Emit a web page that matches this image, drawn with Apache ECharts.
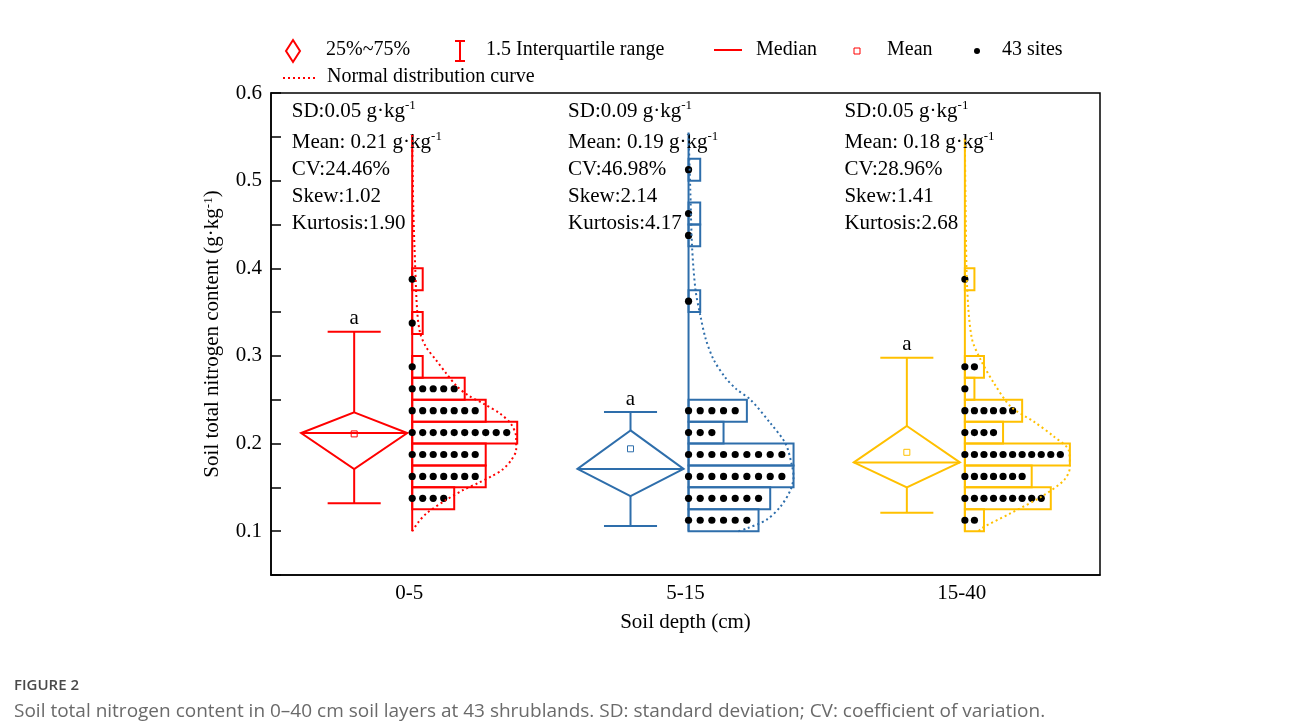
<!DOCTYPE html>
<html>
<head>
<meta charset="utf-8">
<title>Soil total nitrogen content</title>
<script src="https://cdn.jsdelivr.net/npm/echarts@6/dist/echarts.min.js"></script>
<style>
  html, body { margin: 0; padding: 0; background: #fff; }
  #chart { width: 1290px; height: 727px; }
</style>
</head>
<body>
<div id="chart"></div>
<script>
// ---- data -------------------------------------------------------------
const categories = ['0-5', '5-15', '15-40'];
const yTicks = [0.1, 0.2, 0.3, 0.4, 0.5, 0.6];

// Box statistics per soil layer (g·kg-1)
const whiskerLow  = [0.132, 0.106, 0.121];
const q1          = [0.171, 0.140, 0.150];
const median      = [0.212, 0.171, 0.1785];
const q3          = [0.2355, 0.215, 0.220];
const whiskerHigh = [0.3275, 0.236, 0.298];
const means       = [0.211, 0.194, 0.190];
const groupLetters = ['a', 'a', 'a'];

// Histogram bins (lower edges, width 0.025) and site counts per bin
const binLower = [0.100, 0.125, 0.150, 0.175, 0.200, 0.225, 0.250, 0.275, 0.300,
                  0.325, 0.350, 0.375, 0.400, 0.425, 0.450, 0.475, 0.500];
const BIN_W = 0.025;
const counts0to5   = [0, 4, 7, 7, 10, 7, 5, 1, 0, 1, 0, 1, 0, 0, 0, 0, 0];
const counts5to15  = [6, 7, 9, 9, 3, 5, 0, 0, 0, 0, 1, 0, 0, 1, 1, 0, 1];
const counts15to40 = [2, 9, 7, 11, 4, 6, 1, 2, 0, 0, 0, 1, 0, 0, 0, 0, 0];

// Normal distribution curves: [content, expected sites per bin]
const curve0to5 = [[0.100, 0], [0.110, 0.57], [0.120, 1.33], [0.135, 3.14], [0.147, 4.86],
  [0.155, 6.29], [0.163, 7.62], [0.170, 8.57], [0.181, 9.43], [0.193, 9.9], [0.207, 9.9],
  [0.222, 9.43], [0.234, 8.38], [0.245, 6.86], [0.255, 5.33], [0.265, 4.29], [0.280, 3.24],
  [0.295, 2.29], [0.310, 1.33], [0.326, 0.76], [0.350, 0.48], [0.400, 0.29], [0.470, 0.1], [0.552, 0]];
const curve5to15 = [[0.100, 4.28], [0.103, 4.97], [0.113, 6.68], [0.128, 7.88], [0.147, 8.74],
  [0.162, 9.0], [0.177, 8.83], [0.200, 8.31], [0.223, 7.03], [0.250, 5.31], [0.262, 4.11],
  [0.275, 3.17], [0.296, 2.14], [0.320, 1.46], [0.345, 1.03], [0.375, 0.6], [0.425, 0.3],
  [0.489, 0.15], [0.555, 0]];
const curve15to40 = [[0.100, 1.47], [0.103, 1.68], [0.120, 4.71], [0.139, 7.96], [0.158, 10.37],
  [0.173, 11.0], [0.192, 10.89], [0.208, 9.32], [0.225, 7.23], [0.242, 4.82], [0.269, 3.04],
  [0.295, 1.68], [0.320, 0.73], [0.375, 0.25], [0.450, 0.1], [0.548, 0]];

// Descriptive statistics printed above each layer
const sdText   = ['0.05', '0.09', '0.05'];
const meanText = ['0.21', '0.19', '0.18'];
const cvText   = ['24.46%', '46.98%', '28.96%'];
const skewText = ['1.02', '2.14', '1.41'];
const kurtText = ['1.90', '4.17', '2.68'];

// ---- layout / style ---------------------------------------------------
const colors = ['#ff0000', '#2e6eab', '#ffc000'];
const countsByGroup = [counts0to5, counts5to15, counts15to40];
const curvesByGroup = [curve0to5, curve5to15, curve15to40];
const SERIF = '"Liberation Serif", "Times New Roman", serif';

// offsets in category units (one category = 1)
const BOX_OFFSET = -0.199;
const DIAMOND_HW = 0.192;
const CAP_HW = 0.096;
const HIST_OFFSET = 0.011;
const HIST_MAX_W = 0.38;
const TEXT_OFFSET = -0.425;

const supRich = {
  n: { fontFamily: SERIF, fontSize: 21, lineHeight: 24, color: '#000' },
  s: { fontFamily: SERIF, fontSize: 13, lineHeight: 13, color: '#000', verticalAlign: 'top' }
};

function countUnit(g) {
  return HIST_MAX_W / Math.max.apply(null, countsByGroup[g]);
}

function renderGroup(params, api) {
  const g = api.value(0);
  const col = colors[g];
  const cx = g + 0.5;
  const bx = cx + BOX_OFFSET;
  const hx = cx + HIST_OFFSET;
  const P = (x, y) => api.coord([x, y]);
  const line = (a, b, w) => ({
    type: 'line', shape: { x1: a[0], y1: a[1], x2: b[0], y2: b[1] },
    style: { stroke: col, lineWidth: w || 2 }
  });
  const ch = [];

  // whiskers and caps
  ch.push(line(P(bx, whiskerHigh[g]), P(bx, q3[g])));
  ch.push(line(P(bx, q1[g]), P(bx, whiskerLow[g])));
  ch.push(line(P(bx - CAP_HW, whiskerHigh[g]), P(bx + CAP_HW, whiskerHigh[g])));
  ch.push(line(P(bx - CAP_HW, whiskerLow[g]), P(bx + CAP_HW, whiskerLow[g])));
  // interquartile diamond
  ch.push({
    type: 'polygon',
    shape: { points: [P(bx, q3[g]), P(bx + DIAMOND_HW, median[g]), P(bx, q1[g]), P(bx - DIAMOND_HW, median[g])] },
    style: { stroke: col, lineWidth: 2, fill: 'none' }
  });
  // median
  ch.push(line(P(bx - DIAMOND_HW, median[g]), P(bx + DIAMOND_HW, median[g])));
  // mean
  const mp = P(bx, means[g]);
  ch.push({ type: 'rect', shape: { x: mp[0] - 3, y: mp[1] - 3, width: 6, height: 6 },
            style: { stroke: col, lineWidth: 1, fill: 'none' } });
  // significance letter
  const lp = P(bx, whiskerHigh[g]);
  ch.push({ type: 'text', x: lp[0], y: lp[1] - 13,
            style: { text: groupLetters[g], font: '21px ' + SERIF, fill: '#000', align: 'center', verticalAlign: 'middle' } });

  // histogram axis line
  const curve = curvesByGroup[g];
  ch.push(line(P(hx, curve[0][0]), P(hx, curve[curve.length - 1][0])));
  // histogram bars + site dots
  const counts = countsByGroup[g];
  const u = countUnit(g);
  counts.forEach((c, i) => {
    if (!c) return;
    const lo = binLower[i];
    const tl = P(hx, lo + BIN_W);
    const br = P(hx + c * u, lo);
    ch.push({ type: 'rect', shape: { x: tl[0], y: tl[1], width: br[0] - tl[0], height: br[1] - tl[1] },
              style: { stroke: col, lineWidth: 2, fill: 'none' } });
  });
  counts.forEach((c, i) => {
    for (let k = 0; k < c; k++) {
      const p = P(hx + k * u, binLower[i] + BIN_W / 2);
      ch.push({ type: 'circle', shape: { cx: p[0], cy: p[1], r: 3.6 }, style: { fill: '#000' }, z2: 5 });
    }
  });

  // descriptive statistics
  const tx = P(cx + TEXT_OFFSET, 0.6)[0];
  const top = P(cx, 0.6)[1];
  const rows = [
    [18, '{n|SD:' + sdText[g] + ' g·kg}{s|-1}'],
    [49, '{n|Mean: ' + meanText[g] + ' g·kg}{s|-1}'],
    [76, '{n|CV:' + cvText[g] + '}'],
    [103, '{n|Skew:' + skewText[g] + '}'],
    [130, '{n|Kurtosis:' + kurtText[g] + '}']
  ];
  rows.forEach(r => {
    ch.push({ type: 'text', x: tx, y: top + r[0], z2: 6,
              style: { text: r[1], rich: supRich, align: 'left', verticalAlign: 'middle', fill: '#000' } });
  });
  return { type: 'group', children: ch };
}

const series = [];
categories.forEach((name, g) => {
  series.push({
    type: 'custom', name: name, xAxisIndex: 1, yAxisIndex: 0,
    data: [[g]], renderItem: renderGroup, clip: false, z: 2, silent: true
  });
});
categories.forEach((name, g) => {
  const u = countUnit(g);
  series.push({
    type: 'line', name: name + ' normal', xAxisIndex: 1, yAxisIndex: 0,
    data: curvesByGroup[g].map(p => [g + 0.5 + HIST_OFFSET + p[1] * u, p[0]]),
    smooth: 0.3, showSymbol: false, symbol: 'none', z: 3, silent: true,
    lineStyle: { color: colors[g], width: 2, type: [2, 3] }
  });
});

// ---- legend and caption -----------------------------------------------
const LEG_FONT = '20px ' + SERIF;
const legendText = (x, y, t) => ({ type: 'text', x: x, y: y,
  style: { text: t, font: LEG_FONT, fill: '#000', align: 'left', verticalAlign: 'middle' } });
const red = '#ff0000';
const graphic = [
  { type: 'polygon', shape: { points: [[293, 40], [300, 51], [293, 62], [286, 51]] },
    style: { stroke: red, lineWidth: 2, fill: 'none' } },
  legendText(326, 50, '25%~75%'),
  { type: 'line', shape: { x1: 460, y1: 41, x2: 460, y2: 61 }, style: { stroke: red, lineWidth: 2 } },
  { type: 'line', shape: { x1: 455, y1: 41, x2: 465, y2: 41 }, style: { stroke: red, lineWidth: 2 } },
  { type: 'line', shape: { x1: 455, y1: 61, x2: 465, y2: 61 }, style: { stroke: red, lineWidth: 2 } },
  legendText(486, 50, '1.5 Interquartile range'),
  { type: 'line', shape: { x1: 714, y1: 50, x2: 742, y2: 50 }, style: { stroke: red, lineWidth: 2 } },
  legendText(756, 50, 'Median'),
  { type: 'rect', shape: { x: 854, y: 48, width: 6, height: 6 }, style: { stroke: red, lineWidth: 1, fill: 'none' } },
  legendText(887, 50, 'Mean'),
  { type: 'circle', shape: { cx: 977, cy: 51, r: 3 }, style: { fill: '#000' } },
  legendText(1002, 50, '43 sites'),
  { type: 'line', shape: { x1: 283, y1: 78, x2: 317, y2: 78 }, style: { stroke: red, lineWidth: 2, lineDash: [2, 3] } },
  legendText(327, 77, 'Normal distribution curve'),
  { type: 'text', x: 14, y: 686,
    style: { text: 'FIGURE 2', font: '600 15px "Open Sans", sans-serif', fill: '#4a4a4a', verticalAlign: 'middle' } },
  { type: 'text', x: 14, y: 712,
    style: { text: 'Soil total nitrogen content in 0\u201340 cm soil layers at 43 shrublands. SD: standard deviation; CV: coefficient of variation.',
             font: '19px "Open Sans", sans-serif', fill: '#6a6a6a', verticalAlign: 'middle' } }
];

// ---- chart --------------------------------------------------------------
const chart = echarts.init(document.getElementById('chart'), null, { renderer: 'canvas' });
chart.setOption({
  animation: false,
  backgroundColor: '#fff',
  grid: { left: 271, right: 190, top: 93, bottom: 152, show: true, borderColor: '#000', borderWidth: 1.5 },
  xAxis: [
    {
      type: 'category', data: categories, boundaryGap: true, position: 'bottom',
      axisLine: { lineStyle: { color: '#000', width: 1.5 } },
      axisTick: { inside: true, alignWithLabel: true, length: 10, lineStyle: { color: '#000', width: 1.5 } },
      axisLabel: { fontFamily: SERIF, fontSize: 21, color: '#000', margin: 8 },
      splitLine: { show: false },
      name: 'Soil depth (cm)', nameLocation: 'middle', nameGap: 37,
      nameTextStyle: { fontFamily: SERIF, fontSize: 21, color: '#000' }
    },
    { type: 'value', min: 0, max: 3, show: false }
  ],
  yAxis: [{
    type: 'value', min: 0.05, max: 0.6, interval: 0.05,
    axisLine: { show: true, lineStyle: { color: '#000', width: 1.5 } },
    axisTick: { show: true, inside: true, length: 10, lineStyle: { color: '#000', width: 1.5 } },
    axisLabel: {
      fontFamily: SERIF, fontSize: 21, color: '#000', margin: 9,
      formatter: v => {
        const hit = yTicks.find(t => Math.abs(t - v) < 1e-6);
        return hit === undefined ? '' : hit.toFixed(1);
      }
    },
    splitLine: { show: false },
    name: 'Soil total nitrogen content (g·kg{s|-1})', nameLocation: 'middle', nameGap: 48,
    nameTextStyle: {
      fontFamily: SERIF, fontSize: 21, color: '#000',
      rich: { s: { fontFamily: SERIF, fontSize: 13, lineHeight: 13, color: '#000', verticalAlign: 'top' } }
    }
  }],
  series: series,
  graphic: graphic
});
</script>
</body>
</html>
